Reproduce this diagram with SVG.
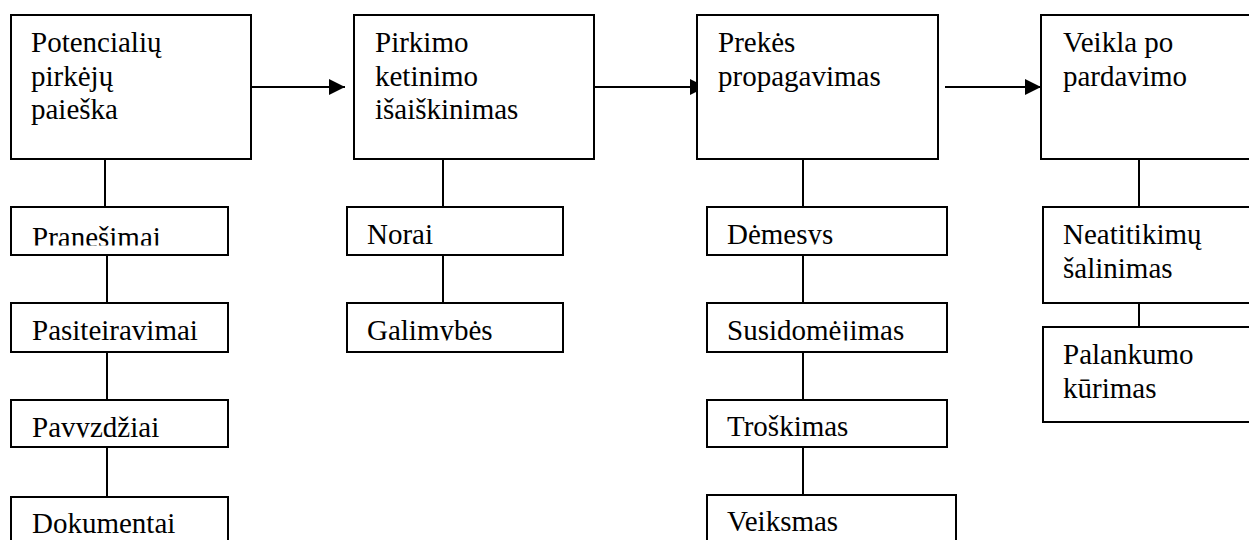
<svg xmlns="http://www.w3.org/2000/svg" width="1249" height="540" viewBox="0 0 1249 540">
<style>
.box{fill:#fff;stroke:#000;stroke-width:2}
.t{font-family:'Liberation Serif','Times New Roman',serif;font-size:29px;fill:#000}
.c{stroke:#000;stroke-width:2;fill:none}
.a{stroke:#000;stroke-width:2;fill:none;marker-end:url(#arr)}
</style>
<defs>
<marker id="arr" markerUnits="userSpaceOnUse" markerWidth="16" markerHeight="16" refX="16" refY="8" orient="auto">
<path d="M0,0 L16,8 L0,16 z" fill="#000"/>
</marker>
<clipPath id="cl1" clipPathUnits="userSpaceOnUse"><rect x="11" y="207" width="217" height="38.5"/></clipPath>
<clipPath id="cl2" clipPathUnits="userSpaceOnUse"><rect x="347" y="303" width="216" height="37.5"/></clipPath>
<clipPath id="cl3" clipPathUnits="userSpaceOnUse"><rect x="707" y="207" width="240" height="37.5"/></clipPath>
<clipPath id="cl4" clipPathUnits="userSpaceOnUse"><rect x="707" y="303" width="240" height="37.5"/></clipPath>
<clipPath id="cl5" clipPathUnits="userSpaceOnUse"><rect x="11" y="400" width="217" height="37.5"/></clipPath>
</defs>
<g id="connectors">
<line class="a" x1="248" y1="87" x2="345" y2="87"/>
<line class="a" x1="587" y1="87" x2="706" y2="87"/>
<line class="a" x1="945" y1="87" x2="1041" y2="87"/>
<line class="c" x1="105" y1="159" x2="105" y2="207"/>
<line class="c" x1="107" y1="255" x2="107" y2="303"/>
<line class="c" x1="107" y1="352" x2="107" y2="400"/>
<line class="c" x1="107" y1="447" x2="107" y2="497"/>
<line class="c" x1="443" y1="159" x2="443" y2="207"/>
<line class="c" x1="443" y1="255" x2="443" y2="303"/>
<line class="c" x1="803" y1="159" x2="803" y2="207"/>
<line class="c" x1="803" y1="255" x2="803" y2="303"/>
<line class="c" x1="803" y1="352" x2="803" y2="400"/>
<line class="c" x1="803" y1="447" x2="803" y2="495"/>
<line class="c" x1="1139" y1="159" x2="1139" y2="207"/>
<line class="c" x1="1139" y1="303" x2="1139" y2="327"/>
</g>
<g id="n1"><rect class="box" x="11" y="15" width="240" height="144"/>
<text class="t" x="31" y="52">Potencialių</text><text class="t" x="31" y="86">pirkėjų</text><text class="t" x="31" y="119">paieška</text></g>
<g id="n2"><rect class="box" x="354" y="15" width="240" height="144"/>
<text class="t" x="375" y="52">Pirkimo</text><text class="t" x="375" y="86">ketinimo</text><text class="t" x="375" y="119">išaiškinimas</text></g>
<g id="n3"><rect class="box" x="697" y="15" width="241" height="144"/>
<text class="t" x="718" y="52">Prekės</text><text class="t" x="718" y="86">propagavimas</text></g>
<g id="n4"><rect class="box" x="1041" y="15" width="240" height="144"/>
<text class="t" x="1063" y="52">Veikla po</text><text class="t" x="1063" y="86">pardavimo</text></g>
<g id="n1a"><rect class="box" x="11" y="207" width="217" height="48"/>
<text class="t" x="32" y="247" clip-path="url(#cl1)">Pranešimai</text></g>
<g id="n1b"><rect class="box" x="11" y="303" width="217" height="49"/>
<text class="t" x="32" y="340">Pasiteiravimai</text></g>
<g id="n1c"><rect class="box" x="11" y="400" width="217" height="47"/>
<text class="t" x="32" y="437" clip-path="url(#cl5)">Pavyzdžiai</text></g>
<g id="n1d"><rect class="box" x="11" y="497" width="217" height="60"/>
<text class="t" x="32" y="533">Dokumentai</text></g>
<g id="n2a"><rect class="box" x="347" y="207" width="216" height="48"/>
<text class="t" x="367" y="244">Norai</text></g>
<g id="n2b"><rect class="box" x="347" y="303" width="216" height="49"/>
<text class="t" x="367" y="340" clip-path="url(#cl2)">Galimybės</text></g>
<g id="n3a"><rect class="box" x="707" y="207" width="240" height="48"/>
<text class="t" x="727" y="244" clip-path="url(#cl3)">Dėmesys</text></g>
<g id="n3b"><rect class="box" x="707" y="303" width="240" height="49"/>
<text class="t" x="727" y="340" clip-path="url(#cl4)">Susidomėjimas</text></g>
<g id="n3c"><rect class="box" x="707" y="400" width="240" height="47"/>
<text class="t" x="727" y="436">Troškimas</text></g>
<g id="n3d"><rect class="box" x="707" y="495" width="249" height="60"/>
<text class="t" x="727" y="531">Veiksmas</text></g>
<g id="n4a"><rect class="box" x="1043" y="207" width="240" height="96"/>
<text class="t" x="1063" y="244">Neatitikimų</text><text class="t" x="1063" y="278">šalinimas</text></g>
<g id="n4b"><rect class="box" x="1043" y="327" width="240" height="95"/>
<text class="t" x="1063" y="364">Palankumo</text><text class="t" x="1063" y="398">kūrimas</text></g>
</svg>
